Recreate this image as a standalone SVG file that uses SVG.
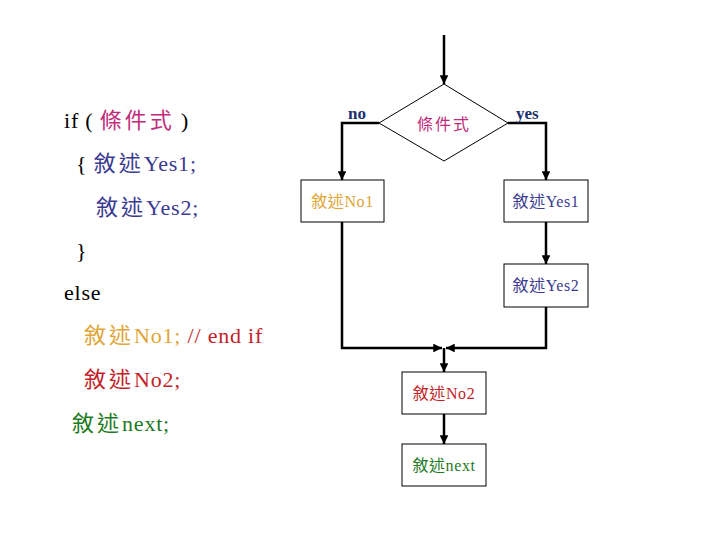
<svg xmlns="http://www.w3.org/2000/svg" width="720" height="540" viewBox="0 0 720 540">
<style>
.code{font-family:"Liberation Serif","Noto Sans CJK TC",serif;font-size:22px;letter-spacing:0.8px}
.cj{letter-spacing:3px}
.lbl{font-family:"Liberation Serif","Noto Sans CJK TC",serif;font-size:16px;letter-spacing:0.6px}
.yn{font-family:"Liberation Serif",serif;font-size:17px;font-weight:bold;fill:#1C2F6E}
.box{fill:#fff;stroke:#000;stroke-width:1}
.conn{fill:none;stroke:#000;stroke-width:2.5}
.k{fill:#000}.m{fill:#C02C7A}.n{fill:#3A3A90}.g{fill:#E0A535}.r{fill:#C41E28}.gr{fill:#1E7A1E}
</style>
<defs>
<marker id="ah" viewBox="0 0 10 10" refX="10" refY="5" markerWidth="3.5" markerHeight="3.5" orient="auto" markerUnits="strokeWidth">
<path d="M0,0 L10,5 L0,10 z" fill="#000"/>
</marker>
</defs>
<rect width="720" height="540" fill="#fff"/>
<g id="code">
<text class="code" x="64" y="128"><tspan class="k">if ( </tspan><tspan class="m cj">條件式</tspan><tspan class="k"> )</tspan></text>
<text class="code" x="76" y="171"><tspan class="k">{ </tspan><tspan class="n cj">敘述</tspan><tspan class="n">Yes1;</tspan></text>
<text class="code n" x="96" y="215"><tspan class="cj">敘述</tspan>Yes2;</text>
<text class="code k" x="76" y="258">}</text>
<text class="code k" x="64" y="300">else</text>
<text class="code" x="84" y="343"><tspan class="g cj">敘述</tspan><tspan class="g">No1; </tspan><tspan class="r">// end if</tspan></text>
<text class="code r" x="84" y="387"><tspan class="cj">敘述</tspan>No2;</text>
<text class="code gr" x="72" y="431"><tspan class="cj">敘述</tspan>next;</text>
</g>
<g id="connectors">
<line class="conn" x1="444" y1="35" x2="444" y2="84" marker-end="url(#ah)"/>
<polyline class="conn" points="379,123 342,123 342,180" marker-end="url(#ah)"/>
<polyline class="conn" points="508,123 546,123 546,180" marker-end="url(#ah)"/>
<line class="conn" x1="546" y1="222" x2="546" y2="264" marker-end="url(#ah)"/>
<polyline class="conn" points="342,222 342,348 442,348" marker-end="url(#ah)"/>
<polyline class="conn" points="546,307 546,348 446,348" marker-end="url(#ah)"/>
<line class="conn" x1="444" y1="348" x2="444" y2="372" marker-end="url(#ah)"/>
<line class="conn" x1="444" y1="414" x2="444" y2="444" marker-end="url(#ah)"/>
</g>
<g id="cond">
<polygon points="444,84 508,123 444,161 379,123" fill="#fff" stroke="#000" stroke-width="1"/>
<text class="lbl m" x="444" y="130" text-anchor="middle" style="letter-spacing:2px">條件式</text>
</g>
<text class="yn" x="348" y="119">no</text>
<text class="yn" x="516" y="119">yes</text>
<g id="no1">
<rect class="box" x="301" y="180" width="83" height="42"/>
<text class="lbl g" x="342.5" y="207" text-anchor="middle">敘述No1</text>
</g>
<g id="yes1">
<rect class="box" x="504" y="180" width="84" height="42"/>
<text class="lbl n" x="546" y="207" text-anchor="middle">敘述Yes1</text>
</g>
<g id="yes2">
<rect class="box" x="504" y="264" width="84" height="43"/>
<text class="lbl n" x="546" y="291" text-anchor="middle">敘述Yes2</text>
</g>
<g id="no2">
<rect class="box" x="402" y="372" width="84" height="42"/>
<text class="lbl r" x="444" y="399" text-anchor="middle">敘述No2</text>
</g>
<g id="next">
<rect class="box" x="402" y="444" width="84" height="42"/>
<text class="lbl gr" x="444" y="471" text-anchor="middle">敘述next</text>
</g>
</svg>
